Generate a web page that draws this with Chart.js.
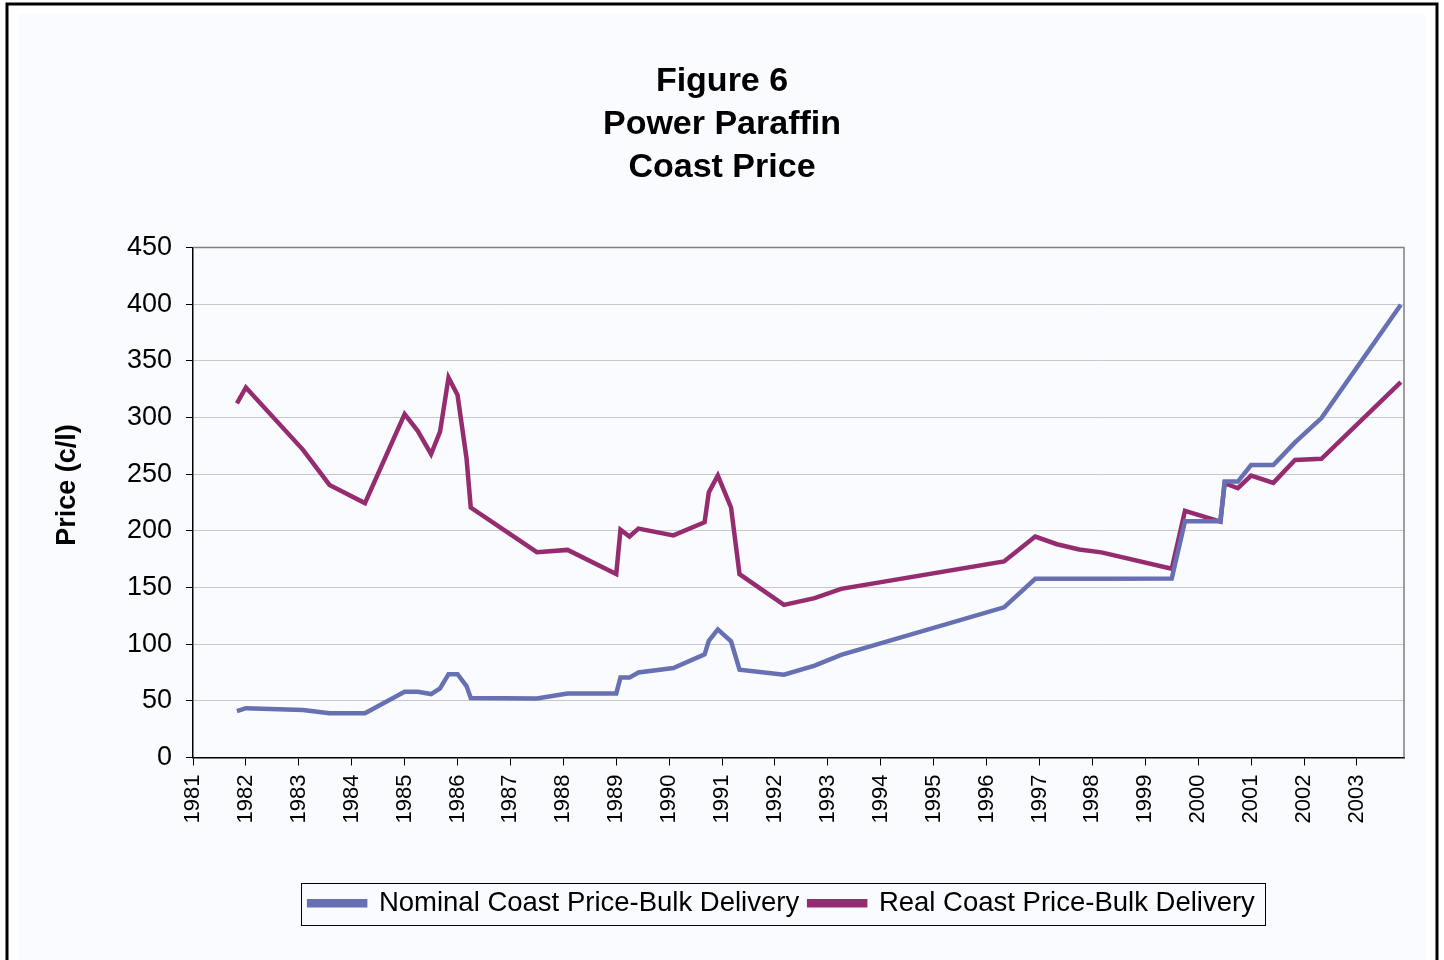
<!DOCTYPE html>
<html>
<head>
<meta charset="utf-8">
<script src="https://cdn.jsdelivr.net/npm/chart.js@4.4.1/dist/chart.umd.min.js"></script>
<style>
  html, body { margin: 0; padding: 0; background: #ffffff; }
  #wrap { position: relative; width: 1444px; height: 960px; }
</style>
</head>
<body>
<div id="wrap"><canvas id="chart"></canvas></div>
<script>
// Dates as decimal years
const dates = [
  1981.83, 1982.0, 1983.08, 1983.58, 1984.25, 1985.0, 1985.25, 1985.5, 1985.67, 1985.83,
  1986.0, 1986.17, 1986.25, 1987.5, 1988.08, 1989.0, 1989.08, 1989.25, 1989.42, 1990.08,
  1990.67, 1990.75, 1990.92, 1991.17, 1991.33, 1992.17, 1992.75, 1993.25, 1996.33, 1996.92,
  1997.33, 1997.75, 1998.17, 1999.5, 1999.75, 2000.42, 2000.5, 2000.75, 2001.0, 2001.42,
  2001.83, 2002.33, 2003.83
];

const nominalPrice = [
  41, 43.5, 42, 39, 39, 58, 58, 56, 61, 73.5,
  73.5, 63, 52.5, 52, 56.5, 56.5, 70.5, 70.5, 75, 79,
  91, 103, 113, 102.5, 77.5, 73, 81, 90.5, 132.5, 157.7,
  157.7, 157.7, 157.7, 158, 208.5, 208.5, 243.5, 243.5, 258, 258,
  278, 299.5, 399.5
];

const realPrice = [
  312.5, 326.5, 271.5, 240.5, 224.5, 303, 288, 267.7, 287.6, 335.3,
  320, 264, 220.6, 181.2, 183.2, 162, 201, 195, 202, 196,
  207.6, 234, 248.8, 220.6, 161.8, 134.7, 140.6, 148.8, 173, 195,
  188.2, 183.5, 181, 166.5, 217.7, 208.2, 242, 237.6, 248.8, 242.4,
  262.6, 263.6, 331.2
];

const yearTicks = [
  1981, 1982, 1983, 1984, 1985, 1986, 1987, 1988, 1989, 1990, 1991, 1992,
  1993, 1994, 1995, 1996, 1997, 1998, 1999, 2000, 2001, 2002, 2003
];

const titleLines = ['Figure 6', 'Power Paraffin', 'Coast Price'];
const yAxisTitle = 'Price (c/l)';
const seriesNames = ['Nominal Coast Price-Bulk Delivery', 'Real Coast Price-Bulk Delivery'];

const toPoints = (values) => values.map((v, i) => ({ x: dates[i], y: v }));

const LEGEND_SHIFT = 60;

// frame, page tint, plot borders, y title and legend box
const decorations = {
  id: 'decorations',
  afterLayout(chart) {
    // the legend sits right of centre in the original
    const legend = chart.legend;
    legend.left += LEGEND_SHIFT;
    legend.right += LEGEND_SHIFT;
    legend.legendHitBoxes.forEach(b => { b.left += LEGEND_SHIFT; });
  },
  beforeDraw(chart) {
    const ctx = chart.ctx;
    ctx.save();
    ctx.fillStyle = '#ffffff';
    ctx.fillRect(0, 0, chart.width, chart.height);
    ctx.fillStyle = '#fafbfe';
    ctx.fillRect(18, 14, 1408, 946);
    ctx.strokeStyle = '#000000';
    ctx.lineWidth = 3;
    ctx.strokeRect(7, 4, 1430, 1000);
    ctx.restore();
  },
  beforeDatasetsDraw(chart) {
    const { ctx, chartArea } = chart;
    ctx.save();
    ctx.strokeStyle = '#808080';
    ctx.lineWidth = 1.5;
    ctx.beginPath();
    ctx.moveTo(chartArea.left, chartArea.top);
    ctx.lineTo(chartArea.right, chartArea.top);
    ctx.lineTo(chartArea.right, chartArea.bottom);
    ctx.stroke();
    ctx.restore();
  },
  afterDraw(chart) {
    const ctx = chart.ctx;
    ctx.save();
    ctx.translate(68, 485);
    ctx.rotate(-Math.PI / 2);
    ctx.fillStyle = '#000000';
    ctx.font = 'bold 27px "Liberation Sans", Arial, sans-serif';
    ctx.textAlign = 'center';
    ctx.textBaseline = 'middle';
    ctx.fillText(yAxisTitle, 0, 0);
    ctx.restore();

    const boxes = chart.legend.legendHitBoxes;
    if (!boxes || !boxes.length) return;
    const left = Math.min(...boxes.map(b => b.left)) - 8;
    const right = Math.max(...boxes.map(b => b.left + b.width)) + 10;
    const top = Math.min(...boxes.map(b => b.top)) - 7;
    const bottom = Math.max(...boxes.map(b => b.top + b.height)) + 7;
    ctx.save();
    ctx.strokeStyle = '#000000';
    ctx.lineWidth = 1;
    ctx.strokeRect(Math.round(left) + 0.5, Math.round(top) + 0.5, Math.round(right - left), Math.round(bottom - top));
    ctx.restore();
  }
};

new Chart(document.getElementById('chart').getContext('2d'), {
  type: 'line',
  data: {
    datasets: [{
      label: seriesNames[0],
      data: toPoints(nominalPrice),
      borderColor: '#6670b2',
      backgroundColor: '#6670b2',
      borderWidth: 4.5,
      pointRadius: 0,
      tension: 0,
      fill: false
    }, {
      label: seriesNames[1],
      data: toPoints(realPrice),
      borderColor: '#962c70',
      backgroundColor: '#962c70',
      borderWidth: 4.5,
      pointRadius: 0,
      tension: 0,
      fill: false
    }]
  },
  plugins: [decorations],
  options: {
    responsive: true,
    maintainAspectRatio: false,
    animation: false,
    layout: {
      padding: { left: 40, right: 40, top: 0, bottom: 33 }
    },
    scales: {
      x: {
        type: 'linear',
        min: 1981,
        max: 2003.89,
        afterBuildTicks: (scale) => {
          scale.ticks = yearTicks.map(v => ({ value: v }));
        },
        afterFit: (scale) => {
          scale.height = 122;
        },
        grid: {
          drawOnChartArea: false,
          tickLength: 8,
          tickColor: '#000000'
        },
        border: {
          color: '#000000',
          width: 1.5
        },
        ticks: {
          color: '#000000',
          font: { family: 'Liberation Sans, Arial, sans-serif', size: 22 },
          minRotation: 90,
          maxRotation: 90,
          padding: 9,
          autoSkip: false,
          callback: (value) => String(value)
        }
      },
      y: {
        min: 0,
        max: 450,
        afterFit: (scale) => {
          scale.width = 153;
        },
        grid: {
          color: '#c8c8c8',
          lineWidth: 1,
          tickLength: 7,
          tickColor: '#000000'
        },
        border: {
          color: '#000000',
          width: 1.5
        },
        ticks: {
          stepSize: 50,
          color: '#000000',
          padding: 14,
          font: { family: 'Liberation Sans, Arial, sans-serif', size: 27 }
        }
      }
    },
    plugins: {
      title: {
        display: true,
        text: titleLines,
        color: '#000000',
        font: { family: 'Liberation Sans, Arial, sans-serif', size: 34, weight: 'bold', lineHeight: 1.27 },
        padding: { top: 60, bottom: 58 }
      },
      legend: {
        display: true,
        position: 'bottom',
        labels: {
          color: '#000000',
          font: { family: 'Liberation Sans, Arial, sans-serif', size: 27.5 },
          boxWidth: 56,
          boxHeight: 4,
          padding: 10
        }
      },
      tooltip: {
        enabled: false
      }
    }
  }
});
</script>
</body>
</html>
